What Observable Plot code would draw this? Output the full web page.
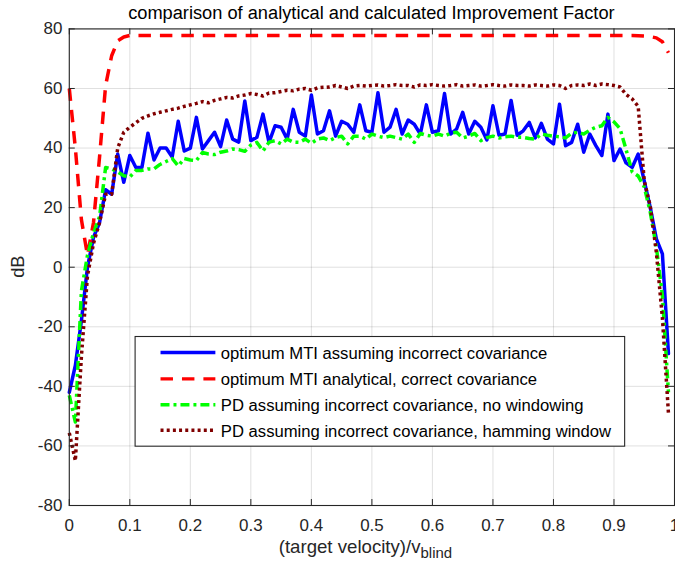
<!DOCTYPE html>
<html><head><meta charset="utf-8">
<script src="https://cdn.jsdelivr.net/npm/d3@7"></script>
<script src="https://cdn.jsdelivr.net/npm/@observablehq/plot@0.6"></script>
<style>
html,body{margin:0;padding:0;background:#fff;overflow:hidden;}
#chart{width:675px;height:571px;overflow:hidden;position:relative;}
#chart svg{overflow:visible;display:block;}
</style></head><body><div id="chart"></div>
<script>
// x values: (target velocity)/v_blind
const velocity = [0,0.01,0.02,0.03,0.04,0.05,0.06,0.07,0.08,0.09,
0.10,0.11,0.12,0.13,0.14,0.15,0.16,0.17,0.18,0.19,
0.20,0.21,0.22,0.23,0.24,0.25,0.26,0.27,0.28,0.29,
0.30,0.31,0.32,0.33,0.34,0.35,0.36,0.37,0.38,0.39,
0.40,0.41,0.42,0.43,0.44,0.45,0.46,0.47,0.48,0.49,
0.50,0.51,0.52,0.53,0.54,0.55,0.56,0.57,0.58,0.59,
0.60,0.61,0.62,0.63,0.64,0.65,0.66,0.67,0.68,0.69,
0.70,0.71,0.72,0.73,0.74,0.75,0.76,0.77,0.78,0.79,
0.80,0.81,0.82,0.83,0.84,0.85,0.86,0.87,0.88,0.89,
0.90,0.91,0.92,0.93,0.94,0.95,0.96,0.97,0.98,0.99];

// optimum MTI assuming incorrect covariance (dB)
const optimumIncorrect = [-42,-33,-18,0,10,15,26,24.5,38,28.5,
37.5,33.5,33.5,45,36,40,40,37,49,39,
40,50.3,39.7,42.5,45.3,40.5,49.4,43,42,55.8,
42.5,43.6,51.4,41.9,47.5,47,43,53,45.3,44,
57.8,44.7,45.8,52.5,44,49,48,45.3,54.5,45.8,
45.3,58.6,45.3,47,53,44.7,49.4,48,44.7,54.5,
45.3,45.8,58.3,44.7,46.4,52,44.7,49,47,42.7,
54.2,44.3,44.7,56,44.3,45.8,48.6,43.4,48.3,43,
41.4,54.7,40.8,41.9,48,38.6,44.7,40.8,37.5,51.4,
35.8,39.7,35,33.5,38,29,20,9.5,4.5,-29];

// optimum MTI analytical, correct covariance (dB)
const optimumAnalytical = [60,40,16,4,15,37,61,71,76,77.3,
77.8,77.8,77.8,77.8,77.8,77.8,77.8,77.8,77.8,77.8,
77.8,77.8,77.8,77.8,77.8,77.8,77.8,77.8,77.8,77.8,
77.8,77.8,77.8,77.8,77.8,77.8,77.8,77.8,77.8,77.8,
77.8,77.8,77.8,77.8,77.8,77.8,77.8,77.8,77.8,77.8,
77.8,77.8,77.8,77.8,77.8,77.8,77.8,77.8,77.8,77.8,
77.8,77.8,77.8,77.8,77.8,77.8,77.8,77.8,77.8,77.8,
77.8,77.8,77.8,77.8,77.8,77.8,77.8,77.8,77.8,77.8,
77.8,77.8,77.8,77.8,77.8,77.8,77.8,77.8,77.8,77.8,
77.8,77.8,77.8,77.8,77.7,77.6,77.4,77,75.7,72];

// PD assuming incorrect covariance, no windowing (dB)
const pdNoWindow = [-43,-52,-8,4,11.5,17,33.5,33,32,30.7,
30.3,32.5,32.5,33,33,34.5,35.5,36.5,34,36.5,
36,35.8,38.5,38,37.8,38.6,39,39.7,39.5,38.9,
41,41.9,39,42,42.5,41.4,43,42,41.9,43,
41.6,43,43.4,42.5,43.5,44,41.4,44,44,43,
44.7,44,43.5,44,43.5,43,44.7,41.9,44.9,44.3,
44,44.7,44,45,45.3,43.4,44,44.9,42.5,43.5,
44,43.4,43.8,44,43.6,43.6,43.2,43,44.7,44.3,
44,43.8,43.4,45,45.3,44.7,46,47,47.5,50.3,
48.8,46.5,39.5,32,30.6,27,18.4,6.8,-9.4,-42];

// PD assuming incorrect covariance, hamming window (dB)
const pdHamming = [-55.6,-65,-30,-3,8,15,24.5,24.5,40,45.3,
47,48.5,50,50.8,51.5,52,52.5,53,53.4,54,
54.5,55,55.6,55.2,56,56.5,57,56.8,57.5,57.8,
58.3,58,57.5,58.5,58.6,59,59.4,59.2,59.8,60,
59.4,60.2,60.4,60.5,61,60.5,60,60.8,61,60.8,
61,61.2,60.8,61,61.3,61,61,60.5,61.2,61,
61.3,61,60.8,61,61.3,60.8,61,61.2,60.8,61,
61.3,61,60.8,61.2,61,61,60.8,61.2,61,60.8,
61.2,61,60,61,61.2,61,61.5,61,61.5,61.3,
61,60.5,58,56.5,54,29,20.5,5,-17,-49];

const seriesNames = [
  "optimum MTI assuming incorrect covariance",
  "optimum MTI analytical, correct covariance",
  "PD assuming incorrect covariance, no windowing",
  "PD assuming incorrect covariance, hamming window"
];
const xTicks = [0,0.1,0.2,0.3,0.4,0.5,0.6,0.7,0.8,0.9,1];
const xTickLabels = ["0","0.1","0.2","0.3","0.4","0.5","0.6","0.7","0.8","0.9","1"];
const yTicks = [-80,-60,-40,-20,0,20,40,60,80];
const yTickLabels = ["-80","-60","-40","-20","0","20","40","60","80"];
const titleText = "comparison of analytical and calculated Improvement Factor";

const styles = [
  {values: optimumIncorrect, color: "#0000ff", dash: null, cap: "round"},
  {values: optimumAnalytical, color: "#ff0000", dash: "12.5,9", cap: "butt"},
  {values: pdNoWindow, color: "#00ff00", dash: "9,4,3,4", cap: "butt"},
  {values: pdHamming, color: "#800000", dash: "3,3.2", cap: "butt"}
];

const W = 677, H = 571, mL = 69, mR = 1, mT = 28.5, mB = 64.5;
const font = "'Liberation Sans', Arial, Helvetica, sans-serif";
const ink = "#262626";
const tickLenY = 6 * 160 / (H - mT - mB);
const tickLenX = 6 / (W - mL - mR);

const lineMarks = styles.map((s, k) => {
  const rows = velocity.map((v, i) => ({v, dB: s.values[i]}));
  return Plot.line(rows, {x: "v", y: "dB", stroke: s.color, strokeWidth: 3.5,
    strokeDasharray: s.dash, strokeLinecap: s.cap, strokeLinejoin: "round"});
});

const plot = Plot.plot({
  width: W, height: H,
  marginLeft: mL, marginRight: mR, marginTop: mT, marginBottom: mB,
  style: {fontFamily: font, background: "#fff", overflow: "visible"},
  x: {domain: [0, 1]},
  y: {domain: [-80, 80]},
  marks: [
    Plot.gridX(xTicks, {stroke: ink, strokeOpacity: 0.15, strokeWidth: 1}),
    Plot.gridY(yTicks, {stroke: ink, strokeOpacity: 0.15, strokeWidth: 1}),
    ...lineMarks,
    Plot.frame({stroke: ink, strokeWidth: 1.1}),
    Plot.ruleX(xTicks, {x: d => d, y1: -80, y2: -80 + tickLenY, stroke: ink}),
    Plot.ruleX(xTicks, {x: d => d, y1: 80, y2: 80 - tickLenY, stroke: ink}),
    Plot.ruleY(yTicks, {y: d => d, x1: 0, x2: tickLenX, stroke: ink}),
    Plot.ruleY(yTicks, {y: d => d, x1: 1, x2: 1 - tickLenX, stroke: ink}),
    Plot.axisX(xTicks, {tickSize: 0, tickPadding: 13, fontSize: 17, fill: ink, label: null,
      tickFormat: d => xTickLabels[xTicks.indexOf(d)]}),
    Plot.axisY(yTicks, {tickSize: 0, tickPadding: 7, fontSize: 17, fill: ink, label: null,
      tickFormat: d => yTickLabels[yTicks.indexOf(d)]})
  ]
});
document.getElementById("chart").appendChild(plot);

const svg = d3.select(plot);
// title
svg.append("text").attr("x", (mL + W - mR) / 2).attr("y", 19.5)
  .attr("text-anchor", "middle").attr("font-family", font).attr("font-size", 18.3)
  .attr("fill", "#000").text(titleText);
// y label
svg.append("text").attr("transform", `translate(24,${(mT + H - mB) / 2}) rotate(-90)`)
  .attr("text-anchor", "middle").attr("font-family", font).attr("font-size", 18.3)
  .attr("fill", ink).text("dB");
// x label with subscript
const xl = svg.append("text").attr("x", (mL + W - mR) / 2 - 6).attr("y", 555)
  .attr("text-anchor", "middle").attr("font-family", font).attr("font-size", 18.7).attr("fill", ink);
xl.append("tspan").text("(target velocity)/v");
xl.append("tspan").attr("dy", 5).attr("font-size", 15).text("blind");

// legend
const lg = svg.append("g").attr("text-anchor", "start");
lg.append("rect").attr("x", 135.5).attr("y", 337.5).attr("width", 491).attr("height", 110)
  .attr("fill", "#fff").attr("stroke", ink).attr("stroke-width", 1.1);
const rowsY = [353.5, 380, 406, 431.5];
styles.forEach((s, k) => {
  lg.append("line").attr("x1", 161).attr("x2", 216).attr("y1", rowsY[k]).attr("y2", rowsY[k])
    .attr("stroke", s.color).attr("stroke-width", 3.5)
    .attr("stroke-dasharray", s.dash).attr("stroke-linecap", "butt");
  lg.append("text").attr("x", 221.5).attr("y", rowsY[k] + 6.5)
    .attr("text-anchor", "start")
    .attr("font-family", font).attr("font-size", 16.7).attr("fill", "#000")
    .text(seriesNames[k]);
});
</script></body></html>
